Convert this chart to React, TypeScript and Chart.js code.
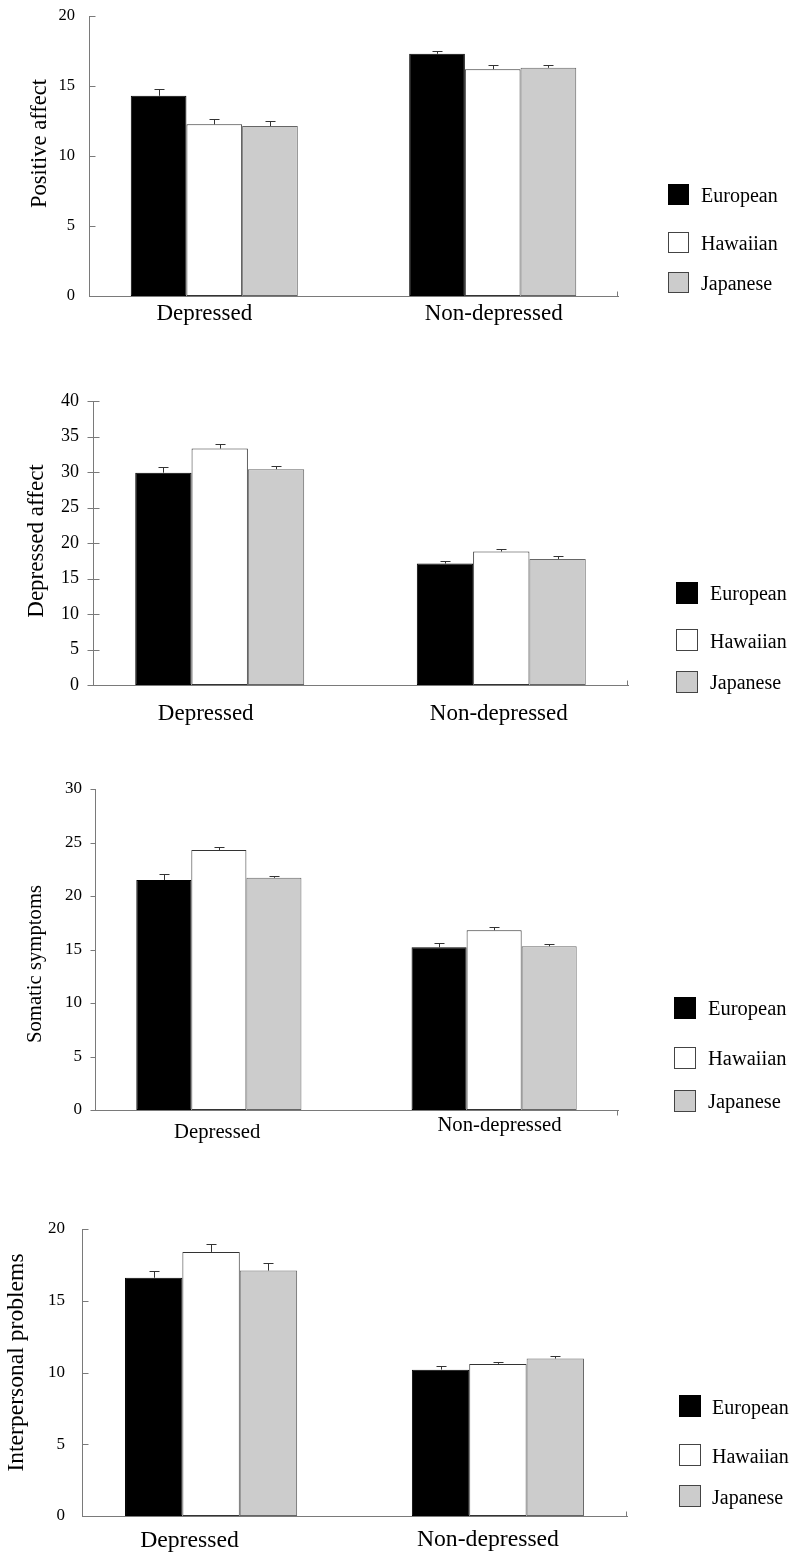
import React, { useEffect, useRef } from "react";
import { Chart, registerables } from "chart.js";

Chart.register(...registerables);

const PAGE_W = 800;
const PAGE_H = 1558;
const FONT = "'Liberation Serif', 'Times New Roman', Times, serif";
const Y_BOX = 60;

// ---------- DATA ----------
const groups = ["European", "Hawaiian", "Japanese"];
const categories = ["Depressed", "Non-depressed"];

// Panel 1: Positive affect
const positiveTitle = "Positive affect";
const positiveTicks = [0, 5, 10, 15, 20];
const positiveEuropean = [14.3, 17.3];
const positiveHawaiian = [12.26, 16.2];
const positiveJapanese = [12.14, 16.3];
const positiveEuropeanSE = [0.45, 0.21];
const positiveHawaiianSE = [0.36, 0.31];
const positiveJapaneseSE = [0.38, 0.21];

// Panel 2: Depressed affect
const depressedTitle = "Depressed affect";
const depressedTicks = [0, 5, 10, 15, 20, 25, 30, 35, 40];
const depressedEuropean = [29.9, 17.1];
const depressedHawaiian = [33.3, 18.8];
const depressedJapanese = [30.4, 17.75];
const depressedEuropeanSE = [0.8, 0.38];
const depressedHawaiianSE = [0.65, 0.38];
const depressedJapaneseSE = [0.5, 0.42];

// Panel 3: Somatic symptoms
const somaticTitle = "Somatic symptoms";
const somaticTicks = [0, 5, 10, 15, 20, 25, 30];
const somaticEuropean = [21.5, 15.2];
const somaticHawaiian = [24.3, 16.8];
const somaticJapanese = [21.7, 15.3];
const somaticEuropeanSE = [0.6, 0.4];
const somaticHawaiianSE = [0.28, 0.28];
const somaticJapaneseSE = [0.2, 0.18];

// Panel 4: Interpersonal problems
const interpersonalTitle = "Interpersonal problems";
const interpersonalTicks = [0, 5, 10, 15, 20];
const interpersonalEuropean = [16.6, 10.2];
const interpersonalHawaiian = [18.4, 10.6];
const interpersonalJapanese = [17.1, 10.97];
const interpersonalEuropeanSE = [0.5, 0.25];
const interpersonalHawaiianSE = [0.55, 0.13];
const interpersonalJapaneseSE = [0.5, 0.2];

// ---------- STYLES ----------
const barFill = ["#000000", "#ffffff", "#cccccc"];
const barBorder = ["#000000", "#333333", "#666666"];
const AXIS_COLOR = "#7a7a7a";
const ERR_COLOR = "#333333";

type PanelDef = {
  title: string;
  ticks: number[];
  values: number[][];
  errors: number[][];
  area: { left: number; right: number; top: number; bottom: number };
  tickFont: number;
  tickPad: number;
  tickStyle: "in" | "out" | "cross";
  endTickDir: number;
  titleFont: number;
  titleX: number;
  titleY: number;
  catFont: number;
  catBaseline: number[];
  catDx: number[];
  legend: { x: number; size: number; rows: number[]; textX: number; font: number };
};

const panels: PanelDef[] = [
  {
    title: positiveTitle,
    ticks: positiveTicks,
    values: [positiveEuropean, positiveHawaiian, positiveJapanese],
    errors: [positiveEuropeanSE, positiveHawaiianSE, positiveJapaneseSE],
    area: { left: 89, right: 618, top: 16, bottom: 296 },
    tickFont: 16.5,
    tickPad: 6,
    tickStyle: "in",
    endTickDir: -1,
    titleFont: 22.5,
    titleX: 45.5,
    titleY: 143.5,
    catFont: 23,
    catBaseline: [320, 320],
    catDx: [-10, 1],
    legend: { x: 668, size: 21, rows: [194.5, 242, 282.5], textX: 701, font: 20 },
  },
  {
    title: depressedTitle,
    ticks: depressedTicks,
    values: [depressedEuropean, depressedHawaiian, depressedJapanese],
    errors: [depressedEuropeanSE, depressedHawaiianSE, depressedJapaneseSE],
    area: { left: 93, right: 628, top: 401, bottom: 685 },
    tickFont: 18,
    tickPad: 6,
    tickStyle: "cross",
    endTickDir: -1,
    titleFont: 23,
    titleX: 43,
    titleY: 541,
    catFont: 23,
    catBaseline: [720, 720],
    catDx: [-14, -2.5],
    legend: { x: 676, size: 21.5, rows: [592.5, 640, 681.5], textX: 710, font: 20 },
  },
  {
    title: somaticTitle,
    ticks: somaticTicks,
    values: [somaticEuropean, somaticHawaiian, somaticJapanese],
    errors: [somaticEuropeanSE, somaticHawaiianSE, somaticJapaneseSE],
    area: { left: 95, right: 618, top: 789, bottom: 1110 },
    tickFont: 17,
    tickPad: 5,
    tickStyle: "out",
    endTickDir: 1,
    titleFont: 20.7,
    titleX: 41,
    titleY: 964,
    catFont: 20.7,
    catBaseline: [1138, 1130.5],
    catDx: [-1.7, 5.3],
    legend: { x: 673.5, size: 22, rows: [1007.7, 1057.5, 1100.5], textX: 708, font: 20.5 },
  },
  {
    title: interpersonalTitle,
    ticks: interpersonalTicks,
    values: [interpersonalEuropean, interpersonalHawaiian, interpersonalJapanese],
    errors: [interpersonalEuropeanSE, interpersonalHawaiianSE, interpersonalJapaneseSE],
    area: { left: 82, right: 627, top: 1229, bottom: 1516 },
    tickFont: 17,
    tickPad: 9,
    tickStyle: "in",
    endTickDir: -1,
    titleFont: 23.6,
    titleX: 22.7,
    titleY: 1362.5,
    catFont: 23.7,
    catBaseline: [1546.5, 1545.5],
    catDx: [-21.6, -10],
    legend: { x: 679, size: 22, rows: [1406, 1455, 1496], textX: 712, font: 20 },
  },
];

function makePlugin(p: PanelDef) {
  return {
    id: "decor",
    afterDatasetsDraw(chart: any) {
      const ctx = chart.ctx as CanvasRenderingContext2D;
      const yScale = chart.scales.y;
      ctx.save();
      ctx.strokeStyle = ERR_COLOR;
      ctx.lineWidth = 1;
      p.values.forEach((series, k) => {
        const meta = chart.getDatasetMeta(k);
        meta.data.forEach((el: any, i: number) => {
          const x = Math.round(el.x) + 0.5;
          const yTop = Math.round(yScale.getPixelForValue(series[i] + p.errors[k][i])) + 0.5;
          const yBar = el.y;
          ctx.beginPath();
          ctx.moveTo(x, yBar);
          ctx.lineTo(x, yTop);
          ctx.moveTo(x - 5, yTop);
          ctx.lineTo(x + 5, yTop);
          ctx.stroke();
        });
      });
      ctx.restore();
    },
    afterDraw(chart: any) {
      const ctx = chart.ctx as CanvasRenderingContext2D;
      const yScale = chart.scales.y;
      const xScale = chart.scales.x;
      const area = chart.chartArea;
      ctx.save();
      // y-axis tick marks
      ctx.strokeStyle = AXIS_COLOR;
      ctx.lineWidth = 1;
      const ax = Math.floor(area.left) + 0.5;
      p.ticks.forEach((v) => {
        const py = Math.round(yScale.getPixelForValue(v)) + 0.5;
        let x1 = ax, x2 = ax;
        if (p.tickStyle === "in") { x2 = ax + 6; }
        else if (p.tickStyle === "out") { x1 = ax - 5; }
        else { x1 = ax - 6; x2 = ax + 6; }
        ctx.beginPath();
        ctx.moveTo(x1, py);
        ctx.lineTo(x2, py);
        ctx.stroke();
      });
      // x-axis end tick
      const ex = Math.floor(area.right) - 0.5;
      const ey = Math.floor(area.bottom) + 0.5;
      ctx.beginPath();
      ctx.moveTo(ex, ey);
      ctx.lineTo(ex, ey + 5 * p.endTickDir);
      ctx.stroke();

      // category labels
      ctx.fillStyle = "#000";
      ctx.textAlign = "center";
      ctx.textBaseline = "alphabetic";
      ctx.font = `${p.catFont}px ${FONT}`;
      categories.forEach((c, i) => {
        const cx = xScale.getPixelForValue(i) + p.catDx[i];
        ctx.fillText(c, cx, p.catBaseline[i]);
      });

      // y title
      ctx.save();
      ctx.translate(p.titleX, p.titleY);
      ctx.rotate(-Math.PI / 2);
      ctx.font = `${p.titleFont}px ${FONT}`;
      ctx.textAlign = "center";
      ctx.textBaseline = "alphabetic";
      ctx.fillText(p.title, 0, 0);
      ctx.restore();

      // legend
      const lg = p.legend;
      groups.forEach((g, k) => {
        const cy = lg.rows[k];
        const top = Math.round(cy - lg.size / 2);
        const left = Math.round(lg.x);
        const s = Math.round(lg.size);
        ctx.fillStyle = barFill[k];
        ctx.fillRect(left, top, s, s);
        ctx.strokeStyle = k === 0 ? "#000" : "#444";
        ctx.lineWidth = 1;
        ctx.strokeRect(left + 0.5, top + 0.5, s - 1, s - 1);
        ctx.fillStyle = "#000";
        ctx.font = `${lg.font}px ${FONT}`;
        ctx.textAlign = "left";
        ctx.textBaseline = "alphabetic";
        ctx.fillText(g, lg.textX, cy + 7.5);
      });
      ctx.restore();
    },
  };
}

function Panel({ p }: { p: PanelDef }) {
  const ref = useRef<HTMLCanvasElement>(null);
  useEffect(() => {
    const canvas = ref.current;
    if (!canvas) return;
    const chart = new Chart(canvas, {
      type: "bar",
      data: {
        datasets: groups.map((g, k) => ({
          label: g,
          data: p.values[k].map((v, i) => ({ x: i, y: v })),
          backgroundColor: barFill[k],
          borderColor: barBorder[k],
          borderWidth: 1,
          borderSkipped: false,
          categoryPercentage: 0.6,
          barPercentage: 1,
        })),
      },
      options: {
        responsive: false,
        animation: false,
        devicePixelRatio: 1,
        events: [],
        layout: {
          padding: {
            left: p.area.left - Y_BOX,
            right: PAGE_W - p.area.right,
            top: p.area.top,
            bottom: PAGE_H - p.area.bottom,
          },
        },
        plugins: {
          legend: { display: false },
          tooltip: { enabled: false },
          title: { display: false },
        },
        scales: {
          x: {
            type: "linear",
            min: -0.45,
            max: 1.45,
            offset: false,
            grid: { display: false },
            border: { display: true, color: AXIS_COLOR, width: 1 },
            ticks: { display: false },
            afterBuildTicks: (s: any) => {
              s.ticks = categories.map((_, i) => ({ value: i }));
            },
            afterFit: (s: any) => {
              s.height = 0;
              s.paddingLeft = 0;
              s.paddingRight = 0;
            },
          },
          y: {
            type: "linear",
            min: p.ticks[0],
            max: p.ticks[p.ticks.length - 1],
            grid: { display: false, tickLength: 8 },
            border: { display: true, color: AXIS_COLOR, width: 1 },
            ticks: {
              color: "#000",
              padding: p.tickPad,
              font: { family: FONT, size: p.tickFont },
            },
            afterBuildTicks: (s: any) => {
              s.ticks = p.ticks.map((v) => ({ value: v }));
            },
            afterFit: (s: any) => {
              s.width = Y_BOX;
              s.paddingTop = 0;
              s.paddingBottom = 0;
            },
          },
        },
      } as any,
      plugins: [makePlugin(p)],
    });
    return () => chart.destroy();
  }, [p]);
  return (
    <canvas
      ref={ref}
      width={PAGE_W}
      height={PAGE_H}
      style={{ position: "absolute", left: 0, top: 0, width: PAGE_W, height: PAGE_H, pointerEvents: "none" }}
    />
  );
}

export default function App() {
  return (
    <div
      style={{
        position: "absolute",
        left: 0,
        top: 0,
        width: PAGE_W,
        height: PAGE_H,
        background: "#ffffff",
        overflow: "hidden",
      }}
    >
      {panels.map((p, i) => (
        <Panel key={i} p={p} />
      ))}
    </div>
  );
}
